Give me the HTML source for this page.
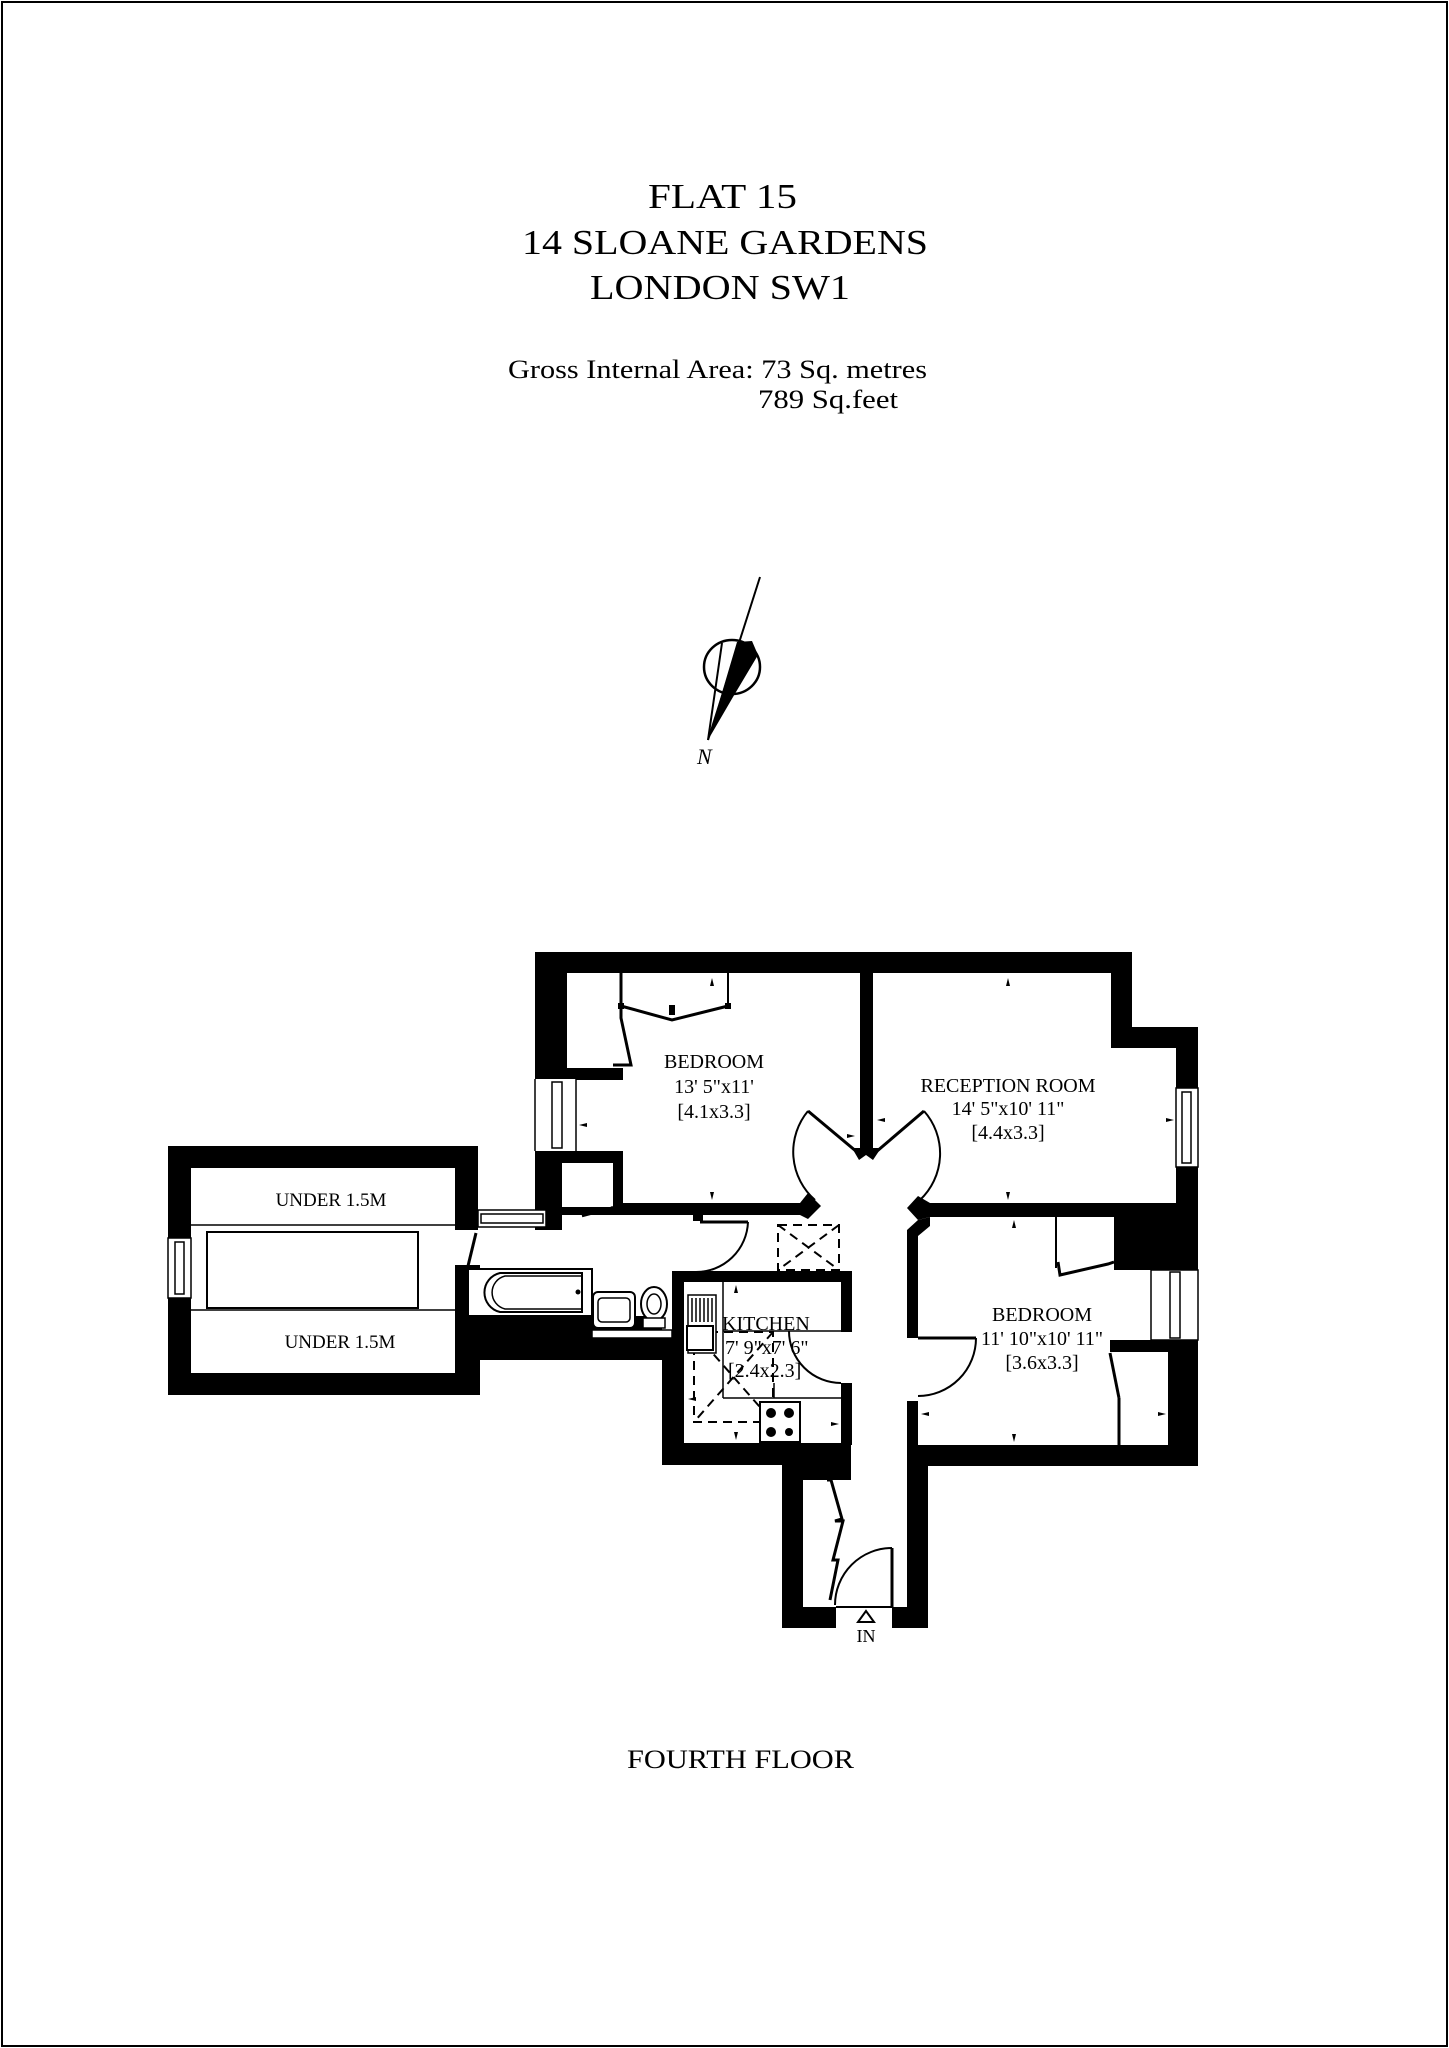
<!DOCTYPE html>
<html><head><meta charset="utf-8"><style>
html,body{margin:0;padding:0;background:#fff;}
svg{display:block;}
text{font-family:"Liberation Serif",serif;fill:#000;}
</style></head><body>
<svg width="1449" height="2048" viewBox="0 0 1449 2048" xmlns="http://www.w3.org/2000/svg">
<rect x="2" y="2" width="1445" height="2044" fill="#fff" stroke="#000" stroke-width="2"/>

<text x="648" y="208" font-size="35" textLength="149" lengthAdjust="spacingAndGlyphs">FLAT 15</text>
<text x="522" y="254" font-size="35" textLength="406" lengthAdjust="spacingAndGlyphs">14 SLOANE GARDENS</text>
<text x="590" y="299" font-size="35" textLength="260" lengthAdjust="spacingAndGlyphs">LONDON SW1</text>
<text x="508" y="378" font-size="26" textLength="419" lengthAdjust="spacingAndGlyphs">Gross Internal Area: 73 Sq. metres</text>
<text x="758" y="408" font-size="26" textLength="140" lengthAdjust="spacingAndGlyphs">789 Sq.feet</text>

<ellipse cx="732" cy="667" rx="28" ry="27" fill="none" stroke="#000" stroke-width="2.5"/>
<line x1="760" y1="577" x2="708" y2="740" stroke="#000" stroke-width="2"/>
<line x1="722" y1="643" x2="708" y2="740" stroke="#000" stroke-width="2"/>
<polygon points="708,740 737,642 752,641 758,655 733,697" fill="#000"/>
<text x="697" y="764" font-size="22" font-style="italic">N</text>

<g fill="#000">
<rect x="168" y="1146" width="310" height="249"/>
<rect x="535" y="952" width="597" height="21"/>
<rect x="535" y="952" width="32" height="127"/>
<rect x="535" y="1068" width="88" height="12"/>
<rect x="535" y="1151" width="88" height="64"/>
<rect x="535" y="1215" width="27" height="15"/>
<rect x="613" y="1203" width="190" height="12"/>
<polygon points="800,1203 808,1193 821,1206 808,1219 800,1215"/>
<rect x="860" y="952" width="13" height="200"/>
<polygon points="852,1148 881,1148 873,1160 866,1155 859,1160"/>
<rect x="1111" y="952" width="21" height="96"/>
<rect x="1111" y="1027" width="87" height="21"/>
<rect x="1176" y="1027" width="22" height="439"/>
<rect x="930" y="1203" width="268" height="14"/>
<polygon points="930,1203 918,1196 907,1208 918,1220 930,1217"/>
<rect x="1114" y="1217" width="84" height="53"/>
<polygon points="907,1230 918,1220 930,1217 930,1226 918,1236 918,1338 907,1338"/>
<rect x="907" y="1401" width="11" height="65"/>
<rect x="1168" y="1340" width="30" height="126"/>
<rect x="1110" y="1340" width="88" height="12"/>
<rect x="907" y="1445" width="291" height="21"/>
<rect x="907" y="1445" width="21" height="183"/>
<rect x="782" y="1443" width="21" height="185"/>
<rect x="782" y="1443" width="69" height="37"/>
<rect x="782" y="1607" width="54" height="21"/>
<rect x="892" y="1607" width="36" height="21"/>
<rect x="672" y="1271" width="180" height="11"/>
<rect x="672" y="1271" width="12" height="70"/>
<rect x="662" y="1338" width="22" height="127"/>
<rect x="662" y="1443" width="189" height="22"/>
<rect x="841" y="1271" width="11" height="61"/>
<rect x="841" y="1383" width="11" height="62"/>
<rect x="455" y="1316" width="207" height="44"/>
<rect x="455" y="1265" width="25" height="130"/>
</g>

<rect x="191" y="1168" width="264" height="205" fill="#fff"/>
<rect x="455" y="1230" width="23" height="35" fill="#fff"/>
<line x1="476" y1="1233" x2="468" y2="1266" stroke="#000" stroke-width="3"/>
<line x1="191" y1="1225" x2="455" y2="1225" stroke="#000" stroke-width="1.5"/>
<line x1="191" y1="1310" x2="455" y2="1310" stroke="#000" stroke-width="1.5"/>
<rect x="207" y="1232" width="211" height="76" fill="none" stroke="#000" stroke-width="2"/>
<text x="331" y="1206" font-size="19" text-anchor="middle">UNDER 1.5M</text>
<text x="340" y="1348" font-size="19" text-anchor="middle">UNDER 1.5M</text>
<rect x="168" y="1238" width="23" height="60" fill="#fff" stroke="#000" stroke-width="1.5"/>
<rect x="175" y="1242" width="9" height="52" fill="none" stroke="#000" stroke-width="1.5"/>

<rect x="478" y="1210" width="68" height="17" fill="#fff" stroke="#000" stroke-width="1.5"/>
<rect x="481" y="1214" width="62" height="9" fill="none" stroke="#000" stroke-width="1.5"/>
<rect x="546" y="1203" width="16" height="27" fill="#000"/>

<rect x="535" y="1079" width="41" height="72" fill="#fff"/>
<line x1="535" y1="1079" x2="535" y2="1151" stroke="#000" stroke-width="1.5"/>
<line x1="576" y1="1079" x2="576" y2="1151" stroke="#000" stroke-width="1.5"/>
<rect x="552" y="1082" width="10" height="66" fill="none" stroke="#000" stroke-width="1.5"/>
<rect x="567" y="973" width="46" height="95" fill="#fff"/>
<polyline points="621,973 621,1018 631,1065 613,1065" fill="none" stroke="#000" stroke-width="3"/>
<rect x="562" y="1163" width="51" height="44" fill="#fff"/>
<polyline points="582,1216 609,1209 613,1207" fill="none" stroke="#000" stroke-width="2.5"/>
<polyline points="621,1006 672,1020 728,1006" fill="none" stroke="#000" stroke-width="3"/>
<line x1="728" y1="973" x2="728" y2="1006" stroke="#000" stroke-width="2"/>
<rect x="618" y="1003" width="6" height="6" fill="#000"/>
<rect x="669" y="1005" width="6" height="10" fill="#000"/>
<rect x="725" y="1003" width="6" height="6" fill="#000"/>

<rect x="1176" y="1088" width="22" height="79" fill="#fff" stroke="#000" stroke-width="1.5"/>
<rect x="1182" y="1092" width="9" height="71" fill="none" stroke="#000" stroke-width="1.5"/>
<rect x="1151" y="1270" width="47" height="70" fill="#fff" stroke="#000" stroke-width="1.5"/>
<rect x="1170" y="1272" width="10" height="66" fill="none" stroke="#000" stroke-width="1.5"/>
<rect x="1119" y="1352" width="49" height="93" fill="#fff"/>
<line x1="1110" y1="1353" x2="1119" y2="1398" stroke="#000" stroke-width="3"/>
<line x1="1119" y1="1398" x2="1119" y2="1445" stroke="#000" stroke-width="3"/>
<line x1="1056" y1="1217" x2="1056" y2="1268" stroke="#000" stroke-width="2"/>
<polyline points="1058,1262 1060,1275 1108,1264 1114,1262" fill="none" stroke="#000" stroke-width="3"/>

<rect x="468" y="1269" width="124" height="47" fill="#fff" stroke="#000" stroke-width="2"/>
<path d="M582,1273 L500,1273 A20,20 0 0 0 500,1312 L582,1312 Z" fill="none" stroke="#000" stroke-width="2"/>
<path d="M582,1276 L505,1276 A17,17 0 0 0 505,1309 L582,1309" fill="none" stroke="#000" stroke-width="1.5"/>
<circle cx="578" cy="1292" r="2.5" fill="#000"/>
<rect x="592" y="1330" width="80" height="8" fill="#fff" stroke="#000" stroke-width="1.5"/>
<rect x="593" y="1292" width="42" height="36" rx="5" fill="#fff" stroke="#000" stroke-width="2"/>
<rect x="598" y="1298" width="32" height="24" rx="4" fill="none" stroke="#000" stroke-width="1.5"/>
<ellipse cx="654" cy="1304" rx="13" ry="17" fill="#fff" stroke="#000" stroke-width="2"/>
<ellipse cx="654" cy="1304" rx="7" ry="10" fill="none" stroke="#000" stroke-width="1.5"/>
<rect x="643" y="1318" width="22" height="10" fill="#fff" stroke="#000" stroke-width="1.5"/>

<g stroke="#000" stroke-width="2" fill="none" stroke-dasharray="9,6">
<rect x="778" y="1225" width="61" height="45"/>
<line x1="778" y1="1225" x2="839" y2="1270"/>
<line x1="839" y1="1225" x2="778" y2="1270"/>
<rect x="694" y="1332" width="79" height="90"/>
<line x1="694" y1="1332" x2="773" y2="1422"/>
<line x1="773" y1="1332" x2="694" y2="1422"/>
</g>

<line x1="723" y1="1282" x2="723" y2="1398" stroke="#000" stroke-width="1.5"/>
<line x1="723" y1="1398" x2="841" y2="1398" stroke="#000" stroke-width="1.5"/>
<line x1="723" y1="1331" x2="841" y2="1331" stroke="#000" stroke-width="1.5"/>
<line x1="774" y1="1398" x2="774" y2="1383" stroke="#000" stroke-width="1.5"/>
<rect x="688" y="1295" width="28" height="58" fill="#fff" stroke="#000" stroke-width="1.5"/>
<g stroke="#000" stroke-width="1.5">
<line x1="692" y1="1298" x2="692" y2="1322"/><line x1="696" y1="1298" x2="696" y2="1322"/>
<line x1="700" y1="1298" x2="700" y2="1322"/><line x1="704" y1="1298" x2="704" y2="1322"/>
<line x1="708" y1="1298" x2="708" y2="1322"/><line x1="712" y1="1298" x2="712" y2="1322"/>
</g>
<rect x="687" y="1326" width="26" height="24" fill="#fff" stroke="#000" stroke-width="2"/>
<rect x="760" y="1402" width="40" height="40" fill="#fff" stroke="#000" stroke-width="2"/>
<circle cx="771" cy="1413" r="5" fill="#000"/><circle cx="789" cy="1413" r="5" fill="#000"/>
<circle cx="771" cy="1432" r="5" fill="#000"/><circle cx="789" cy="1432" r="4" fill="#000"/>

<g fill="none" stroke="#000" stroke-width="2">
<line x1="857" y1="1152" x2="808" y2="1111" stroke-width="3"/>
<path d="M808,1111 A64,64 0 0 0 815,1200"/>
<line x1="876" y1="1152" x2="924" y2="1111" stroke-width="3"/>
<path d="M924,1111 A64,64 0 0 1 920,1200"/>
<line x1="700" y1="1222" x2="748" y2="1222" stroke-width="3"/>
<path d="M748,1222 A52,52 0 0 1 696,1272"/>
<line x1="918" y1="1338" x2="976" y2="1338" stroke-width="3"/>
<path d="M976,1338 A58,58 0 0 1 918,1396"/>
<path d="M789,1331 A52,52 0 0 0 841,1383"/>
<line x1="892" y1="1548" x2="892" y2="1607" stroke-width="3"/>
<path d="M892,1548 A57,57 0 0 0 835,1605"/>
<line x1="836" y1="1607" x2="892" y2="1607" stroke-width="2"/>
<polyline points="827,1480 831,1480 842,1519 835,1521 843,1521 833,1560 838,1560 830,1600" stroke-width="3"/>
</g>
<rect x="693" y="1215" width="10" height="6" fill="#000"/>
<polygon points="866,1611 874,1622 858,1622" fill="#fff" stroke="#000" stroke-width="2"/>
<text x="866" y="1642" font-size="18" text-anchor="middle">IN</text>

<g fill="#000">
<polygon points="712,978 710,986 714,986"/><polygon points="712,1200 710,1192 714,1192"/>
<polygon points="1008,978 1006,986 1010,986"/><polygon points="1008,1200 1006,1192 1010,1192"/>
<polygon points="1014,1220 1012,1228 1016,1228"/><polygon points="1014,1442 1012,1434 1016,1434"/>
<polygon points="579,1125 587,1123 587,1127"/><polygon points="877,1120 885,1118 885,1122"/>
<polygon points="1174,1120 1166,1118 1166,1122"/><polygon points="921,1414 929,1412 929,1416"/>
<polygon points="1166,1414 1158,1412 1158,1416"/><polygon points="736,1285 734,1293 738,1293"/>
<polygon points="736,1440 734,1432 738,1432"/><polygon points="688,1399 696,1397 696,1401"/>
<polygon points="839,1424 831,1422 831,1426"/><polygon points="855,1136 847,1134 847,1138"/>
</g>

<g font-size="20" text-anchor="middle">
<text x="714" y="1068">BEDROOM</text>
<text x="714" y="1093">13' 5"x11'</text>
<text x="714" y="1118">[4.1x3.3]</text>
<text x="1008" y="1092">RECEPTION ROOM</text>
<text x="1008" y="1115">14' 5"x10' 11"</text>
<text x="1008" y="1139">[4.4x3.3]</text>
<text x="1042" y="1321">BEDROOM</text>
<text x="1042" y="1345">11' 10"x10' 11"</text>
<text x="1042" y="1369">[3.6x3.3]</text>
</g>
<g font-size="20">
<text x="722" y="1330">KITCHEN</text>
<text x="725" y="1354">7' 9"x7' 6"</text>
<text x="728" y="1377">[2.4x2.3]</text>
</g>

<text x="627" y="1768" font-size="26" textLength="227" lengthAdjust="spacingAndGlyphs">FOURTH FLOOR</text>
</svg>
</body></html>
